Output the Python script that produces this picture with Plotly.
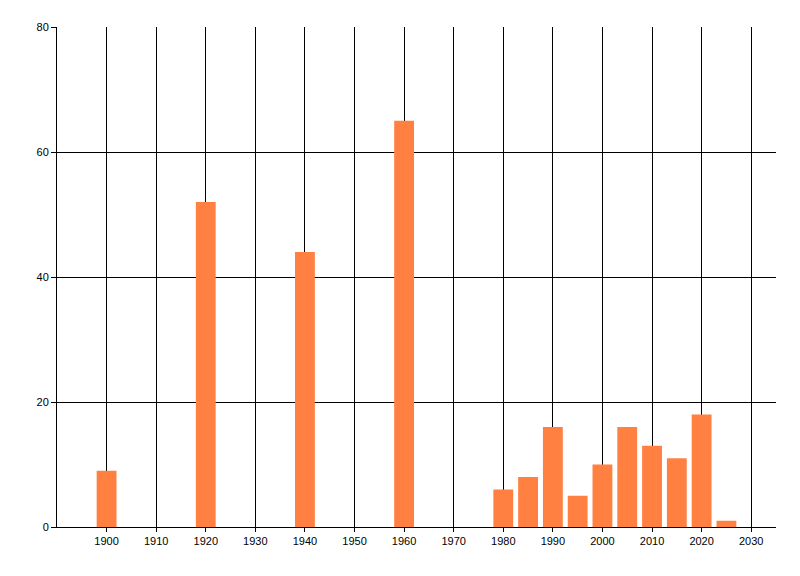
import plotly.graph_objects as go

# years and counts
years = [1900, 1920, 1940, 1960, 1980, 1985, 1990, 1995, 2000, 2005, 2010, 2015, 2020, 2025]
counts = [9, 52, 44, 65, 6, 8, 16, 5, 10, 16, 13, 11, 18, 1]

x_ticks = list(range(1900, 2031, 10))
y_ticks = [0, 20, 40, 60, 80]

fig = go.Figure(go.Bar(
    x=years,
    y=counts,
    width=4,
    marker=dict(color="#FF8040", line=dict(width=0)),
))

# page body has an 8px margin, so the figure is a bit smaller than the window
fig.update_layout(
    width=792, height=568,
    margin=dict(l=49, r=24, t=19, b=49),
    paper_bgcolor="white",
    plot_bgcolor="white",
    font=dict(family="Liberation Sans", size=11, color="black"),
    showlegend=False,
)
fig.update_xaxes(
    range=[1890, 2035],
    tickvals=x_ticks,
    showgrid=True, gridcolor="black", gridwidth=1,
    showline=True, linecolor="black", linewidth=1,
    zeroline=False,
    ticks="outside", ticklen=4, tickcolor="black",
    automargin=False,
)
fig.update_yaxes(
    range=[0, 80],
    tickvals=y_ticks,
    showgrid=True, gridcolor="black", gridwidth=1,
    showline=True, linecolor="black", linewidth=1,
    zeroline=False,
    ticks="outside", ticklen=5, tickcolor="black",
    automargin=False,
)

fig.write_html("out.html")
